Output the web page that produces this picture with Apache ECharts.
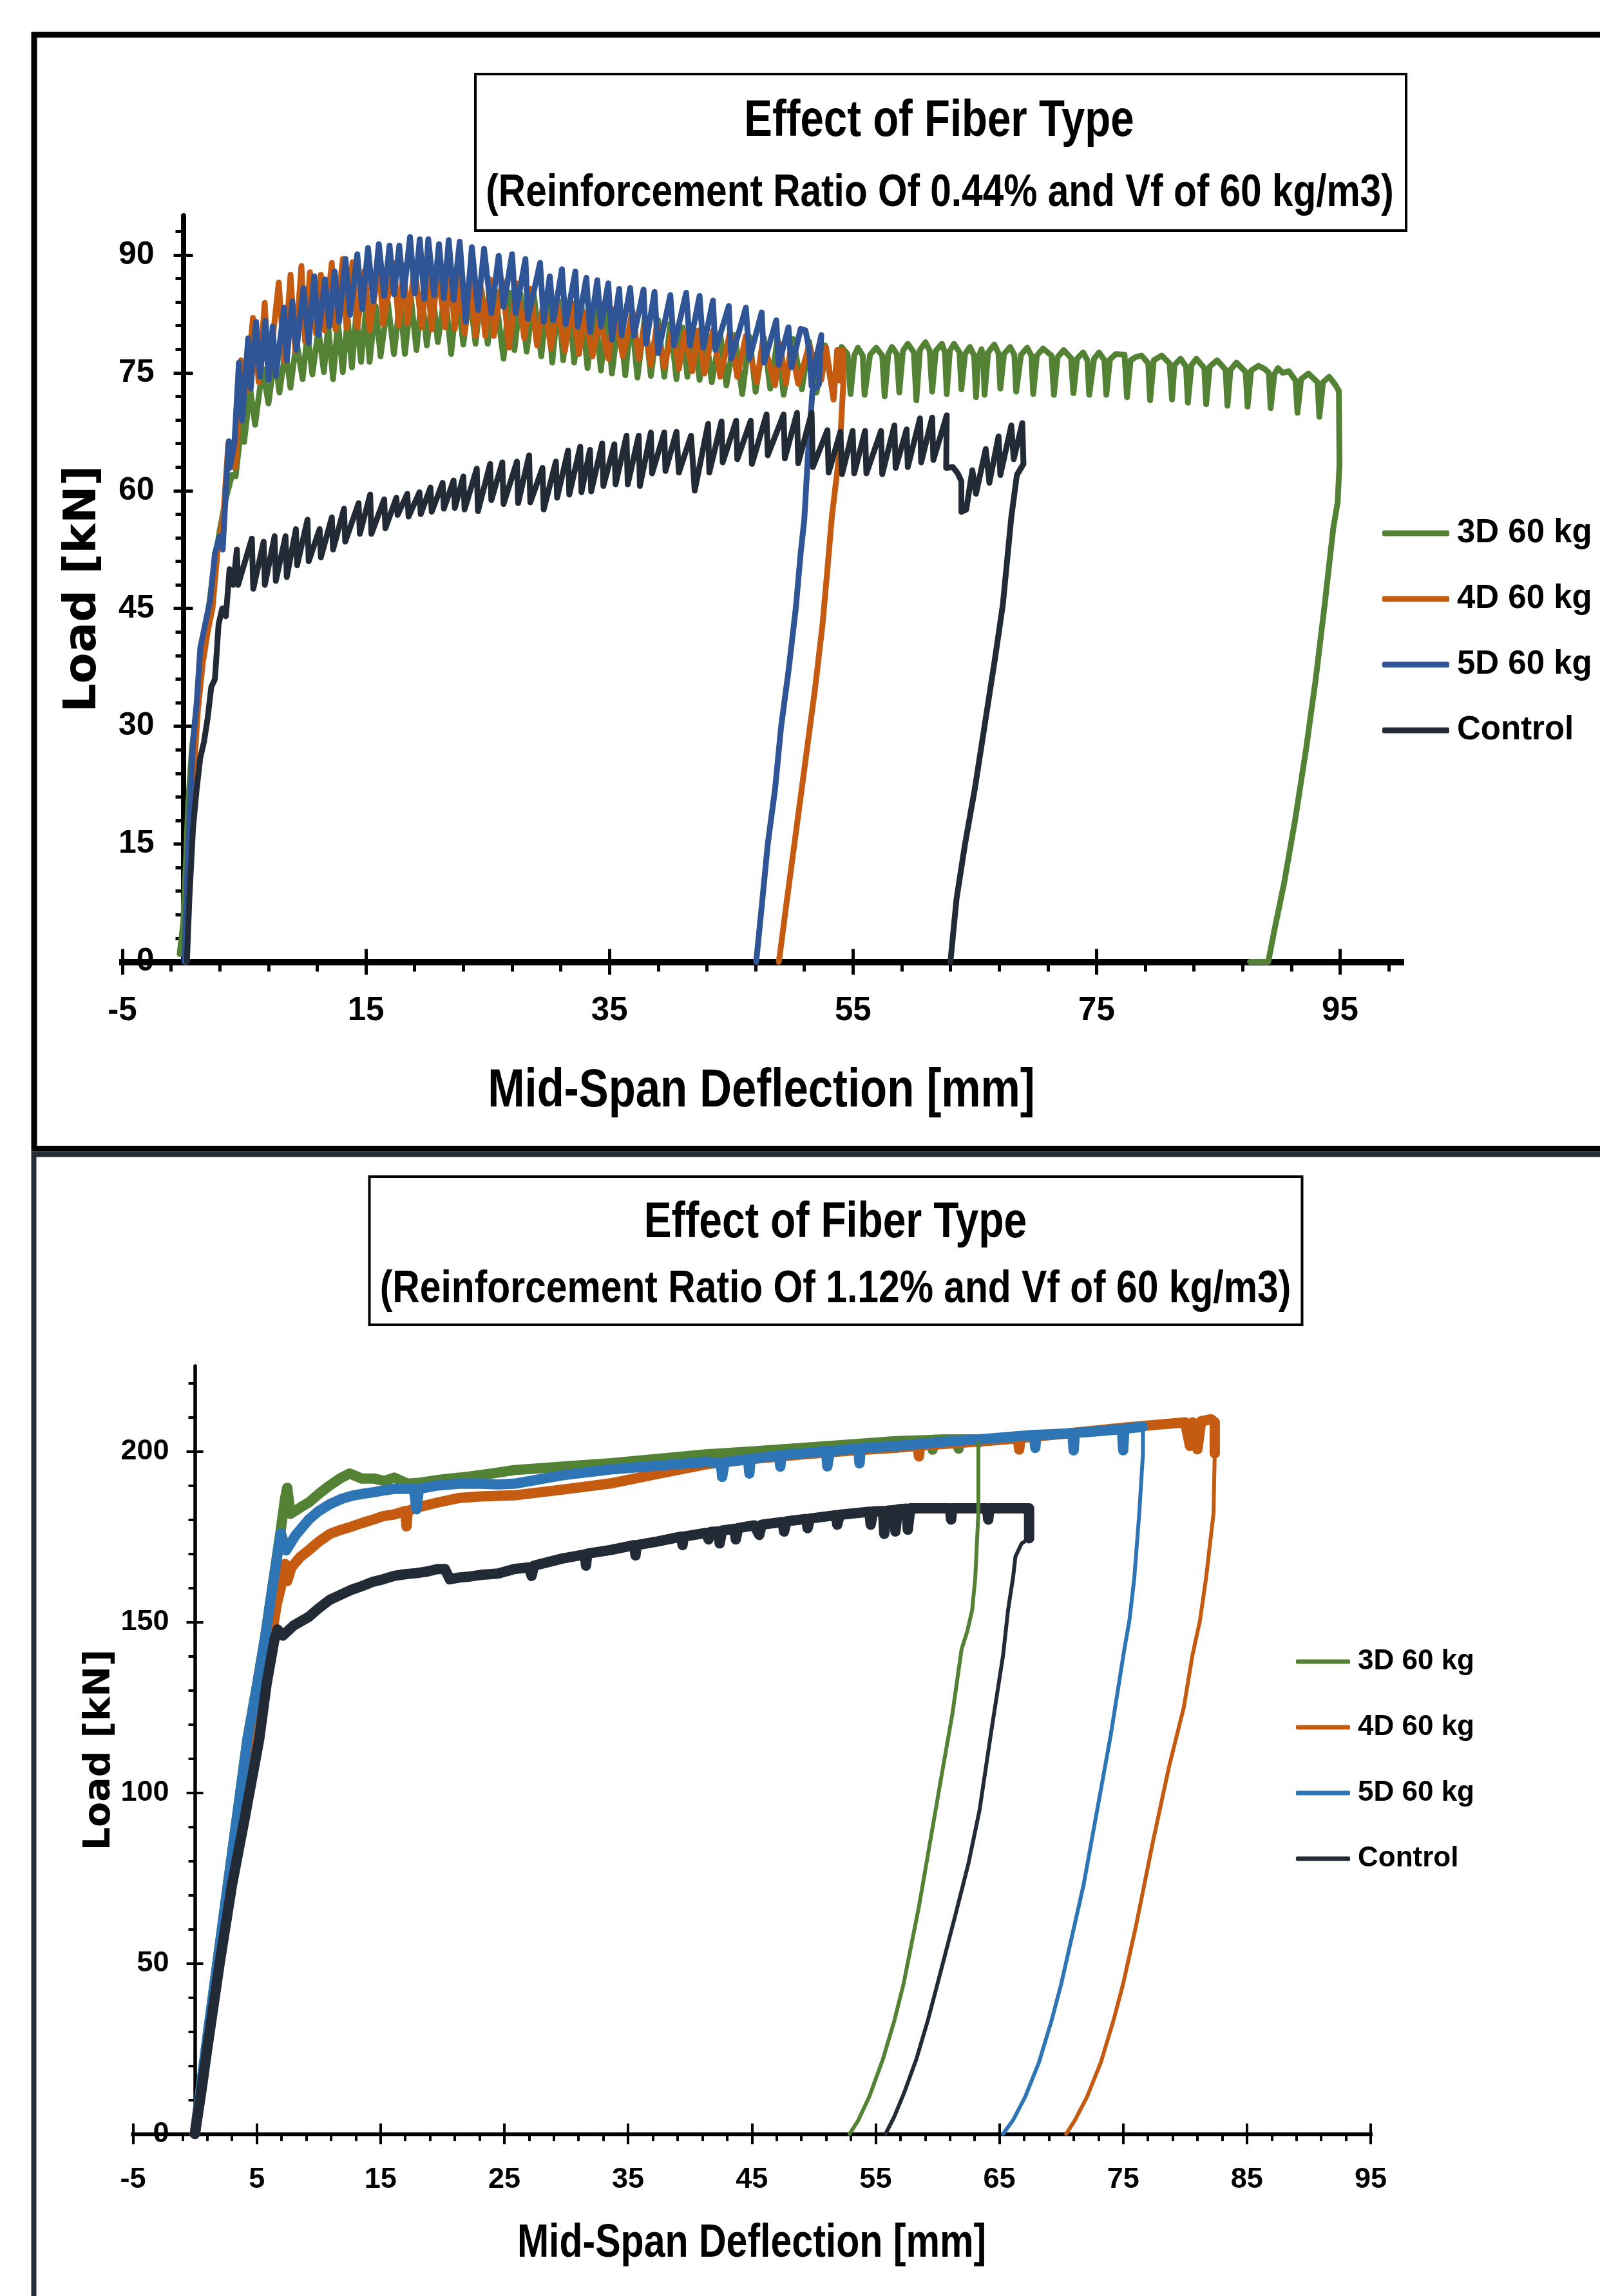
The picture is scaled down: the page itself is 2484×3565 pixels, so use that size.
<!DOCTYPE html>
<html><head><meta charset="utf-8">
<script src="https://cdn.jsdelivr.net/npm/echarts@6/dist/echarts.min.js"></script>
<style>html,body{margin:0;padding:0;background:#fff}#c{width:2484px;height:3565px}</style>
</head><body><div id="c"></div>
<script>
const seriesNames = ['3D 60 kg', '4D 60 kg', '5D 60 kg', 'Control'];
const topColors = ['#548235', '#C55A11', '#2F5597', '#222A35'];
const botColors = ['#548235', '#C55A11', '#2E75B6', '#222A35'];

const topTitle = 'Effect of Fiber Type';
const topSubtitle = '(Reinforcement Ratio Of 0.44% and Vf of 60 kg/m3)';
const botTitle = 'Effect of Fiber Type';
const botSubtitle = '(Reinforcement Ratio Of 1.12% and Vf of 60 kg/m3)';
const xName = 'Mid-Span Deflection [mm]';
const yName = 'Load [kN]';

const topXTicks = [-5, 15, 35, 55, 75, 95];
const topXMinor = [-1, 3, 7, 11, 19, 23, 27, 31, 39, 43, 47, 51, 59, 63, 67, 71, 79, 83, 87, 91, 99];
const topYTicks = [0, 15, 30, 45, 60, 75, 90];
const topYMinor = [3, 6, 9, 12, 18, 21, 24, 27, 33, 36, 39, 42, 48, 51, 54, 57, 63, 66, 69, 72, 78, 81, 84, 87, 93];
const botXTicks = [-5, 5, 15, 25, 35, 45, 55, 65, 75, 85, 95];
const botXMinor = [-3, -1, 1, 3, 7, 9, 11, 13, 17, 19, 21, 23, 27, 29, 31, 33, 37, 39, 41, 43, 47, 49, 51, 53, 57, 59, 61, 63, 67, 69, 71, 73, 77, 79, 81, 83, 87, 89, 91, 93];
const botYTicks = [0, 50, 100, 150, 200];
const botYMinor = [10, 20, 30, 40, 60, 70, 80, 90, 110, 120, 130, 140, 160, 170, 180, 190, 210, 220];

const top3D = [[-0.3,1],[0,5],[0.2,12],[0.4,20],[0.7,27],[1.0,31],[1.5,38],[2.0,44],[2.5,50],[3.0,55],[3.5,59],[4.0,62],[4.3,61.8],[4.6,66],
[4.8,70],[5.0,66.2],[5.5,73],[5.9,68.4],[6.5,75.5],[7.0,71.1],[7.5,77],[7.9,72.5],[8.4,78],[8.8,73.1],[9.3,79],[9.8,74.2],[10.2,80],[10.6,74.8],[11.1,80.5],[11.55,75.1],[11.9,81],[12.3,74.2],[12.7,81.5],[13.1,75.1],[13.5,82],[13.85,75.7],[14.2,82.5],[14.6,76.4],[15.0,83],[15.3,76.4],[15.8,83.5],[16.2,77.1],[16.8,84],[17.3,77.4],[17.8,84.2],[18.2,77.4],[18.7,84.5],[19.15,77.9],[19.6,85],[20.0,78.5],[20.5,85],[20.9,78.9],[21.5,85.2],[22.0,77.4],[22.5,85.3],[23.0,78.6],[23.5,85.4],[24.0,78.7],[24.5,85.5],[25.0,78.7],[25.6,85.5],[26.3,76.8],[26.8,85.2],[27.2,77.9],[27.7,85],[28.2,77.7],[28.8,84.8],[29.4,77.1],[29.9,84.5],[30.3,76.3],[30.8,84.2],[31.2,76.6],[31.7,84],[32.1,76.3],[32.7,83.6],[33.2,75.6],[33.8,83.3],[34.3,75.3],[34.8,83],[35.2,74.9],[35.8,82.6],[36.3,74.7],[36.8,82.3],[37.3,74.4],[37.9,82],[38.4,74.6],[39.0,81.7],[39.5,74.5],[40.0,81.3],[40.5,74.2],[41.0,80.8],[41.4,74.5],[41.9,80.6],[42.4,74.1],[42.9,80.3],[43.4,73.8],[44.1,80],[44.6,73.4],[45.3,79.8],[45.9,72.3],[46.5,79.6],[47.0,72.6],[47.7,79.4],[48.2,73.0],[48.8,79.3],[49.3,72.2],[50.1,79.3],[50.8,72.9],[51.4,79],[52.0,72.5],[52.7,78.5],[53.4,71.8],
[53.7,77.0],[54.06,78.3],[54.55,77.4],[54.8,72.3],
[55.1,77.2],[55.4,78.2],[55.8,77.2],[55.95,72.2],
[56.4,77.3],[56.9,78.2],[57.4,77.2],[57.6,72.0],
[57.9,77.4],[58.2,78.3],[58.6,77.4],[58.8,72.5],
[59.1,77.8],[59.5,78.7],[60.0,77.6],[60.2,71.5],
[60.5,77.9],[60.95,78.9],[61.3,77.8],[61.5,72.6],
[61.8,77.8],[62.3,78.7],[62.55,77.6],[62.7,72.3],
[62.95,77.8],[63.3,78.7],[63.75,77.6],[63.9,72.9],
[64.2,77.4],[64.6,78.3],[64.95,77.2],[65.1,71.9],
[65.3,77],[65.55,78.0],[65.7,77],[65.8,72.2],
[66.1,77.6],[66.6,78.6],[66.95,77.5],[67.1,73.0],
[67.4,77.4],[67.9,78.3],[68.25,77.3],[68.4,72.6],
[68.8,77.3],[69.3,78.2],[69.65,77.2],[69.8,72.3],
[70.1,77.2],[70.6,78.1],[71.3,77.2],[71.5,72.2],
[71.8,77.0],[72.3,77.9],[72.9,76.9],[73.1,72.4],
[73.4,76.8],[73.9,77.6],[74.25,76.6],[74.4,72.2],
[74.8,76.8],[75.2,77.6],[75.65,76.6],[75.8,72.2],
[76.1,76.7],[76.6,77.4],[77.3,77.3],[77.5,71.9],
[77.8,76.6],[78.2,77.0],[78.7,77.2],[79.25,76.2],[79.4,71.5],
[79.7,76.6],[80.35,77.2],[81.0,76.2],[81.2,71.6],
[81.4,76.0],[81.9,76.8],[82.35,75.8],[82.5,71.2],
[82.8,76.0],[83.2,76.8],[83.85,75.6],[84.0,71.0],
[84.3,75.8],[84.9,76.6],[85.6,75.4],[85.75,70.8],
[86.0,75.4],[86.5,76.3],[87.25,75.1],[87.4,70.7],
[87.7,75.3],[88.3,75.9],[88.8,75.5],[89.15,75.0],[89.3,70.5],
[89.6,74.8],[89.9,75.6],[90.3,75.0],[90.8,75.2],[91.35,74.0],[91.5,69.9],
[91.8,74.2],[92.4,74.9],[93.15,73.8],[93.3,69.4],
[93.6,73.8],[94.1,74.5],[94.6,73.5],[94.9,72.7],[94.95,63.4],[94.8,58.5],[94.44,55.2],[93.73,45.4],[93.0,36],[92.2,27],[91.3,18],[90.4,10],[89.6,4],[89.1,0],[87.6,0]];

const top4D = [[0.2,0],[0.4,10],[0.6,18],[0.9,25],[1.2,32],[1.6,38],[2.0,42],[2.4,45],[2.8,52],[3.3,57],[3.7,66],[4.0,63],[4.3,63],[4.74,76.6],[5.2,72.7],
[5.72,82.0],[6.2,73.8],[6.69,83.9],[7.0,74.4],[7.84,86.5],[8.3,76.5],[8.81,87.5],[9.2,77.8],[9.70,88.6],[10.0,79.0],[10.4,87.8],[10.9,80.0],[11.3,87.5],[11.6,80.4],[12.2,89.0],[12.5,80.5],[13.1,89.5],[13.4,80.7],[13.9,89.1],[14.3,80.8],[14.9,88.0],[15.3,80.4],[16.1,89.0],[16.4,81.2],[17.3,89.0],[17.7,81.0],[18.1,88.7],[18.4,81.3],[19.0,88.3],[19.6,80.8],[20.0,88.3],[20.4,80.5],[20.9,87.9],[21.5,80.8],[21.9,88.0],[22.3,80.6],[22.7,87.6],[23.1,80.0],[23.7,86.4],[24.0,79.7],[24.4,86.1],[24.8,79.7],[25.2,86.9],[25.5,79.7],[26.2,86.7],[26.75,78.2],[27.4,86.4],[28.0,79.4],[28.5,85.7],[29.05,78.5],[29.6,84.2],[30.2,78.1],[30.7,83.7],[31.35,77.8],[31.9,83.9],[32.5,77.4],[33.0,82.6],[33.6,77.1],[34.2,82.0],[34.9,76.8],[35.4,83.1],[36.1,77.1],[36.9,82.8],[37.4,76.8],[37.9,81.2],[38.4,76.0],[38.9,81.2],[39.5,75.7],[40.2,80.7],[40.7,75.5],[41.2,80.2],[41.8,75.2],[42.3,80.4],[42.8,74.9],[43.5,80.4],[44.1,74.5],[44.9,80.2],[45.5,74.5],[46.2,79.7],[47.1,73.8],[47.6,79.2],[48.6,73.4],[49.0,78.7],[49.5,73.6],[49.9,78.5],[50.5,73.6],[51.4,78.5],[52.4,74.1],[52.8,78.2],[53.4,71.6],[53.7,77.9],[53.9,74],[54.15,77.9],[54.2,73.5],[53.9,65],[53.26,56.6],[52.9,50],[52.5,43],[51.9,35],[51.3,28],[50.7,21],[50.1,14],[49.5,7],[49.0,1],[48.9,0]];

const top5D = [[0.1,0],[0.3,10],[0.5,18],[0.8,28],[1.1,33],[1.4,40],[1.8,43],[2.2,46],[2.6,52],[2.98,54.2],[3.24,52.5],[3.5,60],[3.74,66.3],[3.81,62.9],[4.2,66],[4.57,76.3],[4.83,68.9],
[5.33,79.4],[5.54,73.0],[5.98,81.5],[6.3,74.5],[6.74,81.6],[7.0,74.1],[7.34,80.9],[7.6,74.6],[8.28,83.3],[8.5,76.6],[8.95,84.1],[9.3,77.9],[9.87,85.8],[10.3,78.8],[10.76,87.3],[11.1,79.8],[11.64,86.9],[12.0,80.9],[12.43,87.9],[12.8,81.5],[13.32,89.5],[13.7,82.4],[14.29,90.1],[14.7,83.1],[15.17,90.9],[15.6,84.1],[16.06,91.4],[16.5,84.8],[16.94,91.2],[17.3,85.0],[17.74,91.2],[18.1,84.8],[18.62,92.3],[19.0,85.1],[19.42,92.0],[19.8,84.4],[20.12,92.0],[20.6,84.9],[21.0,91.4],[21.4,84.5],[21.8,91.9],[22.2,84.3],[22.7,91.7],[23.2,81.5],[23.7,91.0],[24.2,83.0],[24.7,90.8],[25.3,82.6],[25.9,89.9],[26.3,83.4],
[27.0,90.1],[27.3,82.6],[28.1,89.5],[28.3,81.9],[29.3,89.0],[29.6,81.5],[30.1,87.3],[30.4,81.7],[31.1,88.2],[31.4,81.2],[32.2,87.9],[32.4,80.9],[33.1,87.1],[33.4,80.2],[34.0,86.8],[34.3,80.9],[34.9,86.4],[35.2,79.2],[35.8,85.7],[36.0,79.8],[36.7,85.8],[37.0,79.7],[37.8,85.6],[38.0,78.7],[38.7,85.3],[39.0,77.5],[40.0,84.9],[40.3,78.5],[41.3,85.2],[41.6,78.5],[42.4,84.8],[42.7,78.2],[43.5,84.2],[43.7,77.9],[44.8,83.5],[45.0,76.8],[46.2,83.3],[46.5,76.8],[47.5,82.7],[47.7,76.3],[48.7,81.7],[48.9,76.0],[49.7,80.8],[49.95,75.7],[50.7,80.6],[51.1,80.4],[51.4,78],[51.6,73.3],[52.0,77],[52.4,79.8],[52.2,73.5],[51.67,72.7],[51.3,64.5],[51.0,56.3],[50.7,52],[50.3,45],[49.7,37],[49.1,30],[48.6,22],[48.0,15],[47.5,7],[47.05,0]];

const topControl = [[0.3,0],[0.5,8],[0.8,17],[1.1,22],[1.4,26],[1.7,28],[2.0,31],[2.3,35],[2.6,36],[2.9,43],[3.2,45],[3.5,44],[3.8,50],[4.1,48],[4.4,52.5],[4.5,48],
[5.63,53.9],[5.75,47.5],[6.6,53.5],[6.7,48],[7.5,54.2],[7.6,48.5],[8.4,54.2],[8.5,49],[9.25,55.1],[9.35,50.5],[10.2,56.3],[10.3,51],[11.2,55.1],[11.3,51.5],[12.2,56.6],[12.3,52.5],[13.2,57.7],[13.3,53.5],[14.4,58.4],[14.5,54.5],[15.35,59.5],[15.45,54.5],[16.5,58.9],[16.6,55.2],[17.5,59.1],[17.6,56.9],[18.4,59.6],[18.5,56.7],[19.4,59.8],[19.5,57.0],[20.3,60.4],[20.4,57.3],[21.3,61.0],[21.4,57.7],[22.2,61.3],[22.3,57.8],[23.0,61.8],[23.1,57.6],[24.1,62.8],[24.2,57.4],[25.2,63.4],[25.3,58.8],[26.2,63.6],[26.3,58.3],[27.4,63.7],[27.5,58.4],[28.4,64.5],[28.5,58.5],[29.5,62.9],[29.6,57.6],[30.6,63.7],[30.7,59.1],[31.6,65.1],[31.7,59.5],[32.6,65.6],[32.7,59.8],[33.4,65.2],[33.5,59.9],[34.4,66.0],[34.5,60.6],[35.4,65.9],[35.5,60.8],[36.4,67.0],[36.5,60.8],[37.4,67.0],[37.5,60.6],[38.4,67.4],[38.5,62.2],[39.5,67.4],[39.6,62.5],[40.5,67.5],[40.7,62.3],[41.7,67.0],[42.0,60.0],[43.1,68.5],[43.2,62.3],[44.2,68.8],[44.3,63.6],[45.4,68.9],[45.5,64.0],[46.6,68.9],[46.7,63.4],[47.9,69.7],[48.0,64.5],[49.3,69.7],[49.4,64.1],[50.4,69.9],[50.5,63.5],[51.6,69.9],[51.7,63.0],[52.9,67.7],[53.0,62.3],
[53.97,67.5],[54.1,62.1],[54.97,67.6],[55.1,62.2],[55.99,67.6],[56.1,62.2],[57.3,67.6],[57.4,62.1],[58.4,68.3],[58.5,62.9],[59.4,67.8],[59.5,63.0],[60.5,69.2],[60.6,63.6],[61.5,69.3],[61.6,63.9],[62.7,69.6],[62.65,62.9],[63.2,63.0],[63.6,62.2],[63.9,61.2],[63.9,57.3],[64.3,57.6],[64.8,62.6],[65.1,59.6],[65.9,65.3],[66.2,61.0],[66.95,66.9],[67.1,62.0],[68.0,68.3],[68.2,64.0],[68.9,68.6],[69.0,63.4],[68.46,62.0],[68.0,56.6],[67.3,45.4],[66.6,38],[65.8,30],[65.0,22],[64.2,15],[63.5,8],[63.0,0]];

const bot3DLoad = [[0,0],[0.5,14],[1,28],[2,55],[3,82],[4.25,115.7],[5.0,131],[5.64,144.7],[6.3,161],[6.9,176],[7.28,186],[7.46,189.3],[7.72,181.7],[8.5,183.5],[9.2,185],[10.0,187.5],[10.9,190],[11.7,192],[12.5,193.5],[13.5,192],[14.5,192],[15.3,191.3],[16.1,192.3],[17.2,190.5],[18.2,190.8],[19.5,191.5],[20.5,192],[22,192.5],[24,193.5],[25.8,194.5],[29.7,195.5],[33.6,196.5],[37.4,197.8],[41.3,199.1],[45.2,200],[49.05,201],[52.9,202],[56.8,203],[59.5,203.3],[59.6,200.5],[59.7,203.4],[60.7,203.5],[61.6,203.5],[61.7,200.8],[61.8,203.5],[63.0,203.5],[63.3,202.5]];
const bot3DUnload = [[63.3,202.5],[63.3,200.5],[63.3,181.8],[63.05,162.9],[62.8,153.5],[62.4,147.2],[61.95,142.1],[61.2,123],[60.3,104.4],[59.4,85.5],[58.5,66.6],[57.26,44.0],[56.5,33],[55.6,22],[54.5,11],[53.6,4],[52.9,0]];

const bot4DLoad = [[0,0],[0.5,13],[1,26],[2,52],[3,77],[4.0,98],[4.77,115.7],[5.5,131],[6.16,144.7],[6.6,155],[6.94,160],[7.28,167],[7.46,162],[7.8,166],[8.5,169],[9.2,171],[10.0,173.5],[10.9,175.8],[11.8,177],[12.7,178],[13.5,179],[14.4,180],[15.2,181],[16.1,181.5],[17.0,182.5],[17.1,178],[17.2,182.5],[17.9,183.5],[19.6,185],[21.3,186.3],[23.1,186.8],[25.8,187.1],[29.7,188.8],[33.6,190.6],[37.4,193.4],[41.3,196.2],[45.2,197.8],[49.05,199.1],[52.9,200.2],[56.8,201.1],[58.4,201.6],[58.5,198.5],[58.6,201.7],[60.7,202.2],[64.5,203.2],[66.5,203.8],[66.6,200.5],[66.7,203.9],[68.4,204.5],[72.3,205.9],[75.2,207],[78.1,207.9],[80.0,208.5],[80.4,201.6],[80.6,208.5],[81.0,200.6],[81.3,208.8],[82.1,209.4],[82.4,208.5],[82.4,199.4]];
const bot4DUnload = [[82.4,199.4],[82.3,181.8],[81.7,162.9],[81.2,150.3],[80.6,140.3],[79.9,125],[78.7,107.5],[77.4,85.5],[76.0,60.3],[75.0,44.0],[74.2,33],[73.2,21],[72.1,11],[71.1,4],[70.4,0]];

const bot5DLoad = [[0,0],[0.5,14],[1,28],[2,55],[3,82],[4.25,115.7],[5.0,131],[5.64,144.7],[6.3,161],[6.94,176],[7.37,171],[8.15,175.5],[9.2,180],[10.0,182.5],[10.9,184.5],[11.8,186],[12.7,187],[13.5,187.5],[14.4,188],[15.2,188.5],[16.1,189],[17.0,189],[17.7,189],[17.9,183],[18.1,189],[19.6,190],[21.3,190.5],[23.1,190.5],[24.5,190.3],[25.8,190.5],[29.7,193],[33.6,194.7],[37.4,195.8],[41.3,196.9],[42.5,196.5],[42.6,192.5],[42.8,196.8],[44.7,197.7],[44.8,193.5],[44.9,197.8],[47.2,198.8],[47.3,195.5],[47.4,198.9],[49.05,199.4],[51,200],[51.1,195.6],[51.3,200],[52.9,200.6],[53.6,200.8],[53.7,196.5],[53.8,200.9],[56.8,201.6],[60.7,202.8],[64.5,203.8],[67.8,204.8],[67.9,201],[68.0,204.8],[70.9,205.3],[71.0,200.3],[71.1,205.4],[72.3,205.7],[74.9,206.5],[75.0,200.3],[75.1,206.6],[76.6,207.2]];
const bot5DUnload = [[76.6,207.2],[76.6,199.4],[76.3,181.8],[75.9,162.9],[75.5,150.3],[75.1,142.1],[74.0,116.9],[72.9,94.9],[71.8,72.9],[70.0,44.0],[69.2,33],[68.2,21],[67.1,11],[66.1,4],[65.3,0]];

const botControlLoad = [[0,0],[0.5,12],[1,25],[2,50],[3,73],[4.0,92],[5.2,115.7],[5.8,132],[6.42,144.7],[6.68,147.8],[7.1,146],[8.0,149],[9.2,151.5],[10.0,154],[10.9,156.5],[11.8,158],[12.7,159.5],[13.5,160.5],[14.4,161.8],[15.2,162.5],[16.1,163.5],[17.0,164],[17.9,164.3],[18.8,164.8],[19.6,165.5],[20.2,165.5],[20.6,162.5],[21.3,163],[22.2,163.3],[23.1,163.8],[24.5,164.2],[25.8,165.5],[27.0,166],[27.2,163.5],[27.4,166.5],[29.7,168.6],[31.5,169.8],[31.6,166.5],[31.7,170],[33.6,171.1],[35.5,172.5],[35.6,169.5],[35.7,172.5],[37.4,173.6],[39.3,175],[39.4,172.5],[39.5,175],[41.3,176.1],[41.5,174.2],[41.7,176.4],[42.3,176.5],[42.4,173],[42.6,176.8],[43.6,177.3],[43.7,174.2],[43.9,177.5],[45.2,178.3],[45.6,175.5],[45.8,178.5],[47.5,179.3],[47.6,176.5],[47.8,179.5],[49.4,180.2],[49.5,177.5],[49.7,180.3],[51.8,181.3],[51.9,178.5],[52.1,181.4],[54.5,182.3],[54.6,178.5],[54.8,182.4],[55.6,182.5],[55.7,175.8],[55.9,182.6],[56.5,182.8],[56.6,176.5],[56.8,183],[57.5,183.2],[57.6,177],[57.8,183.3],[58.7,183.3],[61.0,183.3],[61.1,180],[61.2,183.3],[64.0,183.3],[64.1,180],[64.2,183.3],[67.4,183.3],[67.4,174.5]];
const botControlUnload = [[67.4,174.5],[66.8,173],[66.3,169.2],[66.1,162.9],[65.7,153.5],[65.3,140.3],[64.3,116.9],[63.4,94.9],[62.5,79.2],[61.4,63.5],[60.0,44.0],[59.2,33],[58.3,22],[57.3,12],[56.5,5],[55.8,0]];

const txtFont = "'Liberation Sans','Arial',sans-serif";
const wide = "'DejaVu Sans','Verdana',sans-serif";

// x-axis ranges and grid widths; the y axis is placed where x = 0
const topXRange = [-5, 100];
const botXRange = [-5, 95];
const topGridW = 1985;
const botGridW = 1921.5;
const topYOffset = -(0 - topXRange[0]) * topGridW / (topXRange[1] - topXRange[0]);
const botYOffset = -(0 - botXRange[0]) * botGridW / (botXRange[1] - botXRange[0]);

function xAxesFor(grid, min, max, majors, minors, s) {
  const base = { type: 'value', gridIndex: grid, min: min, max: max, position: 'bottom', splitLine: { show: false } };
  return [
    Object.assign({}, base, {
      axisLine: { show: true, onZero: false, lineStyle: { color: '#000', width: s.lineW, cap: 'square' } },
      axisTick: { show: true, customValues: majors, length: s.tickLen, lineStyle: { color: '#000', width: s.tickW } },
      axisLabel: { show: true, customValues: majors, margin: s.labelMargin, fontFamily: txtFont, fontWeight: 'bold', fontSize: s.labelSize, color: '#000' }
    }),
    Object.assign({}, base, {
      axisLine: { show: false, onZero: false }, axisLabel: { show: false },
      axisTick: { show: true, inside: true, customValues: majors, length: s.tickLen, lineStyle: { color: '#000', width: s.tickW } }
    }),
    Object.assign({}, base, {
      axisLine: { show: false, onZero: false }, axisLabel: { show: false },
      axisTick: { show: true, customValues: minors, length: s.minorLen, lineStyle: { color: '#000', width: s.tickW } }
    })
  ];
}
function yAxesFor(grid, offset, min, max, majors, minors, s) {
  const base = { type: 'value', gridIndex: grid, min: min, max: max, position: 'left', offset: offset, splitLine: { show: false } };
  return [
    Object.assign({}, base, {
      name: yName, nameLocation: 'middle', nameGap: s.nameGap, nameMoveOverlap: false,
      nameTextStyle: { fontFamily: wide, fontWeight: 'bold', fontSize: s.nameSize, color: '#000' },
      axisLine: { show: true, onZero: false, lineStyle: { color: '#000', width: s.lineW } },
      axisTick: { show: true, customValues: majors, length: s.tickLen, lineStyle: { color: '#000', width: s.tickW } },
      axisLabel: { show: true, customValues: majors, margin: s.labelMargin, fontFamily: txtFont, fontWeight: 'bold', fontSize: s.labelSize, color: '#000' }
    }),
    Object.assign({}, base, {
      axisLine: { show: false, onZero: false }, axisLabel: { show: false },
      axisTick: { show: true, inside: true, customValues: majors, length: s.tickLen, lineStyle: { color: '#000', width: s.tickW } }
    }),
    Object.assign({}, base, {
      axisLine: { show: false, onZero: false }, axisLabel: { show: false },
      axisTick: { show: true, customValues: minors, length: s.minorLen, lineStyle: { color: '#000', width: s.tickW } }
    })
  ];
}

function line(name, data, color, width, axisIdx, z) {
  return {
    type: 'line', name: name, data: data, xAxisIndex: axisIdx, yAxisIndex: axisIdx,
    showSymbol: false, symbol: 'none', animation: false, z: z,
    lineStyle: { color: color, width: width, join: 'round', cap: 'round' },
    itemStyle: { color: color }, emphasis: { disabled: true }
  };
}

function narrowText(text, x, y, size, sx) {
  return { type: 'text', x: x, y: y, scaleX: sx, silent: true, z: 100,
    style: { text: text, fontFamily: txtFont, fontWeight: 'bold', fontSize: size, fill: '#000',
      align: 'center', verticalAlign: 'middle', textAlign: 'center', textVerticalAlign: 'middle' } };
}

const topSeriesData = [top3D, top4D, top5D, topControl];
const botLoadData = [bot3DLoad, bot4DLoad, bot5DLoad, botControlLoad];
const botUnloadData = [bot3DUnload, bot4DUnload, bot5DUnload, botControlUnload];

const series = [];
topSeriesData.forEach((d, i) => series.push(line(seriesNames[i], d, topColors[i], 9, 0, 2 + i)));
botLoadData.forEach((d, i) => series.push(line(seriesNames[i], d, botColors[i], 16, 3, 2 + i)));
botUnloadData.forEach((d, i) => series.push(line(seriesNames[i], d, botColors[i], 6, 3, 7 + i)));

const chart = echarts.init(document.getElementById('c'), null, { renderer: 'canvas', width: 2484, height: 3565 });
chart.setOption({
  backgroundColor: '#ffffff',
  animation: false,
  legend: [
    { orient: 'vertical', left: 2141, top: 793, itemWidth: 104, itemHeight: 9, itemGap: 42, icon: 'roundRect', selectedMode: false,
      data: seriesNames.map((n, i) => ({ name: n, itemStyle: { color: topColors[i] } })),
      textStyle: { fontFamily: txtFont, fontWeight: 'bold', fontSize: 51, lineHeight: 60, color: '#000', padding: [0, 0, 0, 7] } },
    { orient: 'vertical', left: 2007, top: 2550, itemWidth: 84, itemHeight: 7, itemGap: 52, icon: 'roundRect', selectedMode: false,
      data: seriesNames.map((n, i) => ({ name: n, itemStyle: { color: botColors[i] } })),
      textStyle: { fontFamily: txtFont, fontWeight: 'bold', fontSize: 44, lineHeight: 50, color: '#000', padding: [0, 0, 0, 7] } }
  ],
  grid: [
    { left: 190, top: 335, width: topGridW, height: 1158.5, containLabel: false, outerBoundsMode: 'none' },
    { left: 206.5, top: 2121, width: botGridW, height: 1192.3, containLabel: false, outerBoundsMode: 'none' }
  ],
  xAxis: [].concat(
    xAxesFor(0, topXRange[0], topXRange[1], topXTicks, topXMinor, { lineW: 10, tickLen: 20, minorLen: 15, tickW: 5, labelMargin: 51, labelSize: 51 }),
    xAxesFor(1, botXRange[0], botXRange[1], botXTicks, botXMinor, { lineW: 6, tickLen: 16, minorLen: 11, tickW: 4, labelMargin: 49, labelSize: 45 })
  ),
  yAxis: [].concat(
    yAxesFor(0, topYOffset, 0, 95, topYTicks, topYMinor, { lineW: 8, tickLen: 15, minorLen: 12, tickW: 5, labelMargin: 45, labelSize: 50, nameGap: 120, nameSize: 70 }),
    yAxesFor(1, botYOffset, 0, 225, botYTicks, botYMinor, { lineW: 5.5, tickLen: 13, minorLen: 10, tickW: 4, labelMargin: 40, labelSize: 45, nameGap: 119, nameSize: 57 })
  ),
  graphic: [
    { type: 'polyline', silent: true, z: 100, shape: { points: [[2500, 54], [53, 54], [53, 1783.5], [2500, 1783.5]] }, style: { stroke: '#000', lineWidth: 9, fill: null } },
    { type: 'polyline', silent: true, z: 100, shape: { points: [[2500, 1792.5], [52.5, 1792.5], [52.5, 3580]] }, style: { stroke: '#252d39', lineWidth: 8, fill: null } },
    { type: 'rect', silent: true, z: 100, shape: { x: 738, y: 115, width: 1445, height: 243 }, style: { stroke: '#000', lineWidth: 4, fill: null } },
    { type: 'rect', silent: true, z: 100, shape: { x: 573.5, y: 1827, width: 1448, height: 230 }, style: { stroke: '#000', lineWidth: 4, fill: null } },
    narrowText(topTitle, 1458, 189, 80, 0.817),
    narrowText(topSubtitle, 1459, 300, 71, 0.825),
    narrowText(botTitle, 1297, 1899, 78, 0.823),
    narrowText(botSubtitle, 1297, 2002, 71, 0.828),
    narrowText(xName, 1182, 1695, 84, 0.82),
    narrowText(xName, 1167, 3484, 72, 0.82)
  ],
  series: series
});
</script>
</body></html>
